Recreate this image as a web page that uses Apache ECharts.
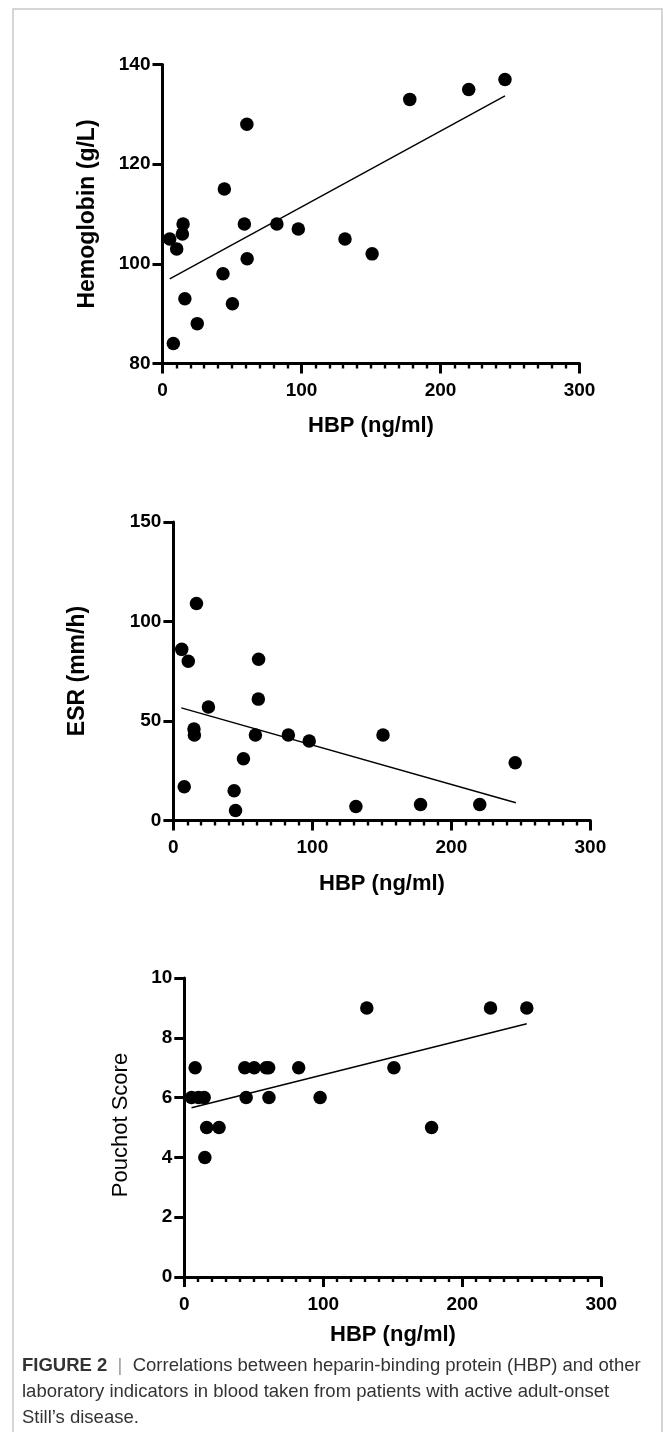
<!DOCTYPE html>
<html>
<head>
<meta charset="utf-8">
<script src="https://cdn.jsdelivr.net/npm/echarts@6/dist/echarts.min.js"></script>
<style>
html,body{margin:0;padding:0;background:#fff;}
#c{width:663px;height:1432px;}
</style>
</head>
<body>
<div id="c"></div>
<script>
// ---- data ----
var xTicks = [0, 100, 200, 300];
var hbpHb = [5.2, 7.8, 10.2, 14.8, 14.3, 16.1, 25, 43.5, 44.5, 50.3, 58.9, 60.7, 60.9, 82.3, 97.7, 131.3, 150.8, 177.9, 220.3, 246.4];
var hemoglobin = [105, 84, 103, 108, 106, 93, 88, 98, 115, 92, 108, 128, 101, 108, 107, 105, 102, 133, 135, 137];
var hbFitX = [5.2, 246.4];
var hbFitY = [97, 133.7];

var hbpEsr = [6, 7.8, 10.7, 14.8, 15.1, 16.6, 25.2, 43.7, 44.7, 50.4, 59, 61.1, 61.3, 82.7, 97.7, 131.3, 150.8, 177.8, 220.4, 245.9];
var esr = [86, 17, 80, 46, 43, 109, 57, 15, 5, 31, 43, 61, 81, 43, 40, 7, 43, 8, 8, 29];
var esrFitX = [5.7, 246.4];
var esrFitY = [56.6, 8.9];

var hbpPs = [5.2, 7.8, 10.2, 14.3, 14.8, 16.1, 25, 43.5, 44.5, 50.3, 58.9, 60.7, 60.9, 82.3, 97.7, 131.3, 150.8, 177.9, 220.3, 246.4];
var pouchot = [6, 7, 6, 6, 4, 5, 5, 7, 6, 7, 7, 7, 6, 7, 6, 9, 7, 5, 9, 9];
var psFitX = [5.2, 246.4];
var psFitY = [5.66, 8.47];

var xTitle = 'HBP (ng/ml)';
var yTitles = ['Hemoglobin (g/L)', 'ESR (mm/h)', 'Pouchot Score'];
var captionBold = 'FIGURE 2';
var captionLines = [
  'Correlations between heparin-binding protein (HBP) and other',
  'laboratory indicators in blood taken from patients with active adult-onset',
  'Still\u2019s disease.'
];

function pairs(xs, ys){ return xs.map(function(x,i){ return [x, ys[i]]; }); }

var FF = '"Liberation Sans", Arial, Helvetica, sans-serif';
var grids = [
  {left:162.5, top:64.5, width:417, height:299},
  {left:173.4, top:522, width:417, height:298.5},
  {left:184.3, top:978, width:417, height:299}
];
var yRanges = [[80,140,20],[0,150,50],[0,10,2]];

function xAxisCfg(i){
  return {
    type:'value', gridIndex:i, min:xTicks[0], max:xTicks[xTicks.length-1], interval:100,
    axisLine:{show:true, onZero:false, lineStyle:{color:'#000', width:3}},
    axisTick:{show:true, length:10, lineStyle:{color:'#000', width:3}},
    minorTick:{show:true, splitNumber:10, length:5, lineStyle:{color:'#000', width:2.4}},
    splitLine:{show:false}, minorSplitLine:{show:false},
    axisLabel:{color:'#000', fontFamily:FF, fontWeight:'bold', fontSize:19, margin:18}
  };
}
function yAxisCfg(i){
  var r = yRanges[i];
  return {
    type:'value', gridIndex:i, min:r[0], max:r[1], interval:r[2],
    axisLine:{show:true, onZero:false, lineStyle:{color:'#000', width:3}},
    axisTick:{show:true, length:10, lineStyle:{color:'#000', width:3}},
    splitLine:{show:false},
    axisLabel:{color:'#000', fontFamily:FF, fontWeight:'bold', fontSize:19, margin:12}
  };
}
function scatter(i, xs, ys){
  return {type:'scatter', xAxisIndex:i, yAxisIndex:i, data:pairs(xs,ys), symbol:'circle', symbolSize:13.5,
    itemStyle:{color:'#000', opacity:1}, silent:true, z:3};
}
function fit(i, xs, ys){
  return {type:'line', xAxisIndex:i, yAxisIndex:i, data:pairs(xs,ys), showSymbol:false, symbol:'none',
    lineStyle:{color:'#000', width:1.4}, silent:true, z:2};
}

var yTitleFont = 'bold 23px ' + FF;
var xTitleFont = 'bold 22px ' + FF;
var chart = echarts.init(document.getElementById('c'), null, {renderer:'canvas'});
chart.setOption({
  animation:false,
  backgroundColor:'#fff',
  grid:grids,
  xAxis:[xAxisCfg(0), xAxisCfg(1), xAxisCfg(2)],
  yAxis:[yAxisCfg(0), yAxisCfg(1), yAxisCfg(2)],
  series:[
    fit(0, hbFitX, hbFitY), scatter(0, hbpHb, hemoglobin),
    fit(1, esrFitX, esrFitY), scatter(1, hbpEsr, esr),
    fit(2, psFitX, psFitY), scatter(2, hbpPs, pouchot)
  ],
  graphic:[
    {type:'rect', silent:true, shape:{x:13, y:9, width:649, height:1440},
      style:{fill:'none', stroke:'#c8c8c8', lineWidth:1.5}},
    {type:'text', silent:true, x:88, y:214, rotation:Math.PI/2,
      style:{text:yTitles[0], font:yTitleFont, fill:'#000', align:'center', verticalAlign:'middle'}},
    {type:'text', silent:true, x:371, y:426,
      style:{text:xTitle, font:xTitleFont, fill:'#000', align:'center', verticalAlign:'middle'}},
    {type:'text', silent:true, x:78, y:671, rotation:Math.PI/2,
      style:{text:yTitles[1], font:yTitleFont, fill:'#000', align:'center', verticalAlign:'middle'}},
    {type:'text', silent:true, x:382, y:884,
      style:{text:xTitle, font:xTitleFont, fill:'#000', align:'center', verticalAlign:'middle'}},
    {type:'text', silent:true, x:121, y:1125, rotation:Math.PI/2,
      style:{text:yTitles[2], font:'22px ' + FF, fill:'#000', align:'center', verticalAlign:'middle'}},
    {type:'text', silent:true, x:393, y:1335,
      style:{text:xTitle, font:xTitleFont, fill:'#000', align:'center', verticalAlign:'middle'}},
    {type:'text', silent:true, x:22, y:1366,
      style:{text:'{b|' + captionBold + '}{s|  |  }{n|' + captionLines[0] + '}',
        verticalAlign:'middle', align:'left',
        rich:{
          b:{fontFamily:FF, fontWeight:'bold', fontSize:18.5, fill:'#333'},
          s:{fontFamily:FF, fontSize:18.5, fill:'#999'},
          n:{fontFamily:FF, fontSize:18.5, fill:'#333'}
        }}},
    {type:'text', silent:true, x:22, y:1392,
      style:{text:captionLines[1], font:'18.5px ' + FF, fill:'#333', align:'left', verticalAlign:'middle'}},
    {type:'text', silent:true, x:22, y:1418,
      style:{text:captionLines[2], font:'18.5px ' + FF, fill:'#333', align:'left', verticalAlign:'middle'}}
  ]
});
</script>
</body>
</html>
